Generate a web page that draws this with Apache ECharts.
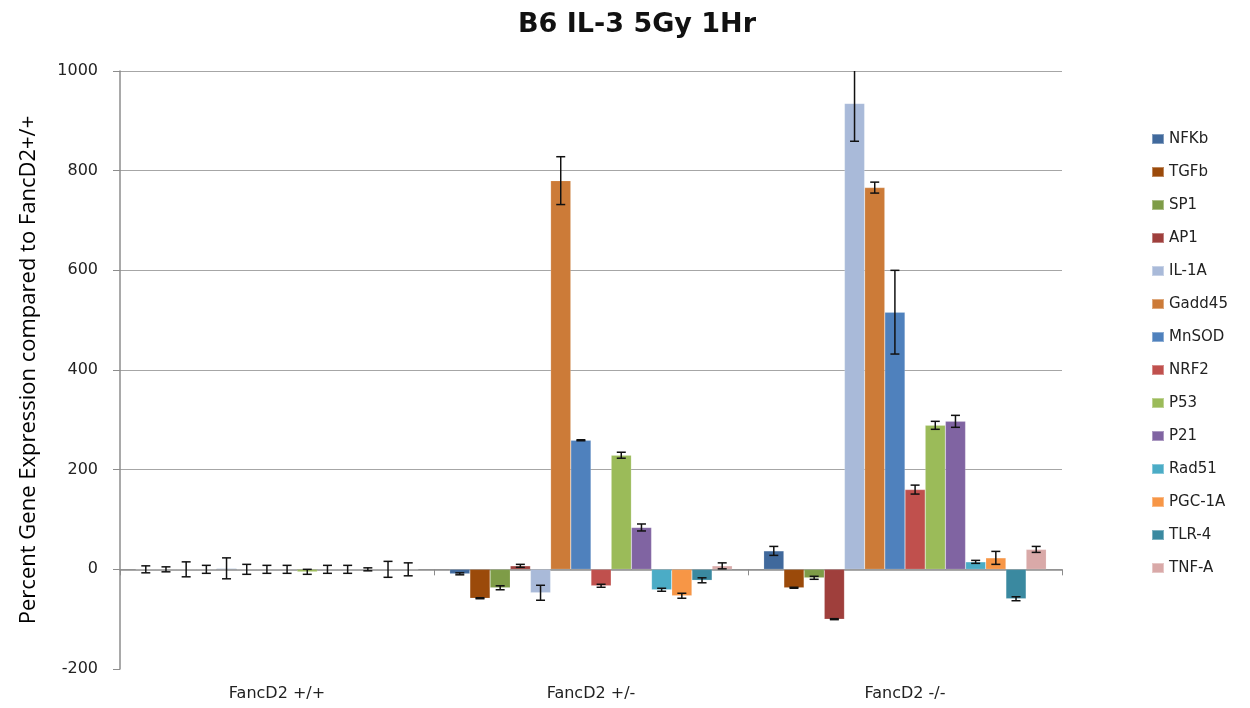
<!DOCTYPE html>
<html>
<head>
<meta charset="utf-8">
<script src="https://cdn.jsdelivr.net/npm/echarts@6/dist/echarts.min.js"></script>
<style>
html,body{margin:0;padding:0;background:#fff;}
#chart{width:1250px;height:708px;}
</style>
</head>
<body>
<div id="chart"></div>
<script>
// ---- data ----
const categories = ['FancD2 +/+', 'FancD2 +/-', 'FancD2 -/-'];
const genes = ['NFKb','TGFb','SP1','AP1','IL-1A','Gadd45','MnSOD','NRF2','P53','P21','Rad51','PGC-1A','TLR-4','TNF-A'];
const geneColors = ['#40699C','#9B4A0A','#7E9C47','#9F3F3C','#A9BAD9','#CC7B38','#4F81BD','#C0504D','#9BBB59','#8064A2','#4BACC6','#F79646','#3A89A0','#D9A9A8'];
const plusPlus      = [0, 0, 0, 0, 2, 0, 0, 0, -5, 0, 0, 0, 0, 0];
const plusPlusErr   = [7, 5, 15, 8, 21, 10, 8, 8, 5, 8, 8, 3, 16, 13];
const plusMinus     = [-9, -58, -37, 7, -47, 780, 259, -33, 229, 84, -41, -53, -22, 7];
const plusMinusErr  = [2, 1, 4, 3, 15, 48, 1, 3, 6, 7, 3, 5, 5, 6];
const minusMinus    = [37, -37, -17, -100, 935, 766, 516, 160, 289, 297, 15, 23, -59, 40];
const minusMinusErr = [9, 1, 3, 1, 76, 11, 84, 9, 8, 12, 3, 13, 4, 6];
const yTicks = [-200, 0, 200, 400, 600, 800, 1000];

const groupVals = [plusPlus, plusMinus, minusMinus];
const groupErrs = [plusPlusErr, plusMinusErr, minusMinusErr];
const N = genes.length;
const CAT_GAP = 0.10;

const series = [];
genes.forEach((g, i) => {
  series.push({
    name: g, type: 'bar', xAxisIndex: 0,
    barGap: '0%', barCategoryGap: (CAT_GAP * 100) + '%',
    itemStyle: { color: geneColors[i], borderColor: 'rgba(255,255,255,0.35)', borderWidth: 0.5 },
    data: groupVals.map(a => a[i]),
    animation: false
  });
});
genes.forEach((g, i) => {
  series.push({
    name: g, type: 'custom', xAxisIndex: 0, z: 5,
    data: groupVals.map((a, c) => [c, a[i], groupErrs[c][i]]),
    renderItem: function (params, api) {
      const c = api.value(0), v = api.value(1), e = api.value(2);
      const catW = api.size([1, 0])[0];
      const barW = catW * (1 - CAT_GAP) / N;
      const cx = api.coord([c, v])[0] - catW * (1 - CAT_GAP) / 2 + barW * (i + 0.5);
      const yMaxPix = api.coord([c, yTicks[yTicks.length - 1]])[1];
      let top = api.coord([c, v + e])[1];
      const bot = api.coord([c, v - e])[1];
      const clipped = top < yMaxPix;
      if (clipped) top = yMaxPix;
      const st = { stroke: '#111', lineWidth: 1.5 };
      const ch = [
        { type: 'line', shape: { x1: cx, y1: top, x2: cx, y2: bot }, style: st },
        { type: 'line', shape: { x1: cx - 4.5, y1: bot, x2: cx + 4.5, y2: bot }, style: st }
      ];
      if (!clipped) ch.push({ type: 'line', shape: { x1: cx - 4.5, y1: top, x2: cx + 4.5, y2: top }, style: st });
      return { type: 'group', children: ch };
    },
    animation: false
  });
});

const chart = echarts.init(document.getElementById('chart'), null, { renderer: 'canvas' });
chart.setOption({
  backgroundColor: '#ffffff',
  animation: false,
  title: {
    text: 'B6 IL-3 5Gy 1Hr', left: 632, top: 6, textAlign: 'center',
    textStyle: { fontFamily: 'DejaVu Sans', fontWeight: 'bold', fontSize: 27, color: '#111' }
  },
  legend: {
    orient: 'vertical', left: 1146, top: 126,
    itemWidth: 12, itemHeight: 10, itemGap: 17,
    data: genes,
    textStyle: { fontFamily: 'DejaVu Sans', fontSize: 15, color: '#222', lineHeight: 16 },
    icon: 'rect'
  },
  grid: { left: 120, right: 188, top: 71, bottom: 39, containLabel: false },
  xAxis: [
    {
      type: 'category', data: categories, position: 'bottom',
      axisLine: { onZero: true, lineStyle: { color: '#8c8c8c', width: 1.5 } },
      axisTick: { show: true, length: 6, lineStyle: { color: '#8c8c8c' } },
      axisLabel: { show: false }
    },
    {
      type: 'category', data: categories, position: 'bottom', gridIndex: 0,
      axisLine: { show: false, onZero: false }, axisTick: { show: false },
      axisLabel: { fontFamily: 'DejaVu Sans', fontSize: 16, color: '#222', margin: 17 }
    }
  ],
  yAxis: {
    type: 'value', min: yTicks[0], max: yTicks[yTicks.length - 1], interval: 200,
    name: 'Percent Gene Expression compared to FancD2+/+',
    nameLocation: 'middle', nameGap: 80,
    nameTextStyle: { fontFamily: 'Open Sans', fontSize: 22, color: '#000' },
    axisLine: { show: true, lineStyle: { color: '#8c8c8c', width: 1.5 } },
    axisTick: { show: true, length: 7, lineStyle: { color: '#8c8c8c' } },
    axisLabel: { fontFamily: 'DejaVu Sans', fontSize: 16, color: '#222', margin: 22, formatter: v => String(v) },
    splitLine: { show: true, lineStyle: { color: ['rgba(0,0,0,0)', '#a6a6a6', '#a6a6a6', '#a6a6a6', '#a6a6a6', '#a6a6a6', '#a6a6a6'], width: 1.2 } }
  },
  series: series
});
</script>
</body>
</html>
